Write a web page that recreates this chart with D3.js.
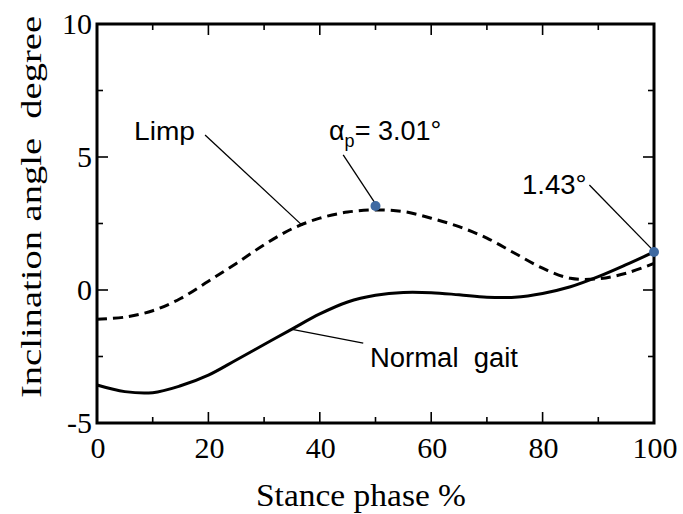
<!DOCTYPE html>
<html><head><meta charset="utf-8">
<script src="https://cdn.jsdelivr.net/npm/d3@7"></script>
<style>body{margin:0;background:#fff}svg{display:block}text{white-space:pre}</style>
</head><body>
<script>
// ---- data ----
const phase = [0,5,10,15,20,25,30,35,40,45,50,55,60,65,70,75,80,85,90,95,100];
const limp = [-1.1,-1.02,-0.78,-0.32,0.33,1.0,1.7,2.3,2.7,2.93,3.01,2.95,2.7,2.38,1.95,1.38,0.82,0.44,0.42,0.63,1.0];
const normal = [-3.57,-3.82,-3.86,-3.6,-3.2,-2.63,-2.05,-1.47,-0.9,-0.45,-0.2,-0.09,-0.1,-0.18,-0.27,-0.27,-0.13,0.12,0.5,0.95,1.43];
const xTicks = [0,20,40,60,80,100];
const yTicks = [-5,0,5,10];
const markers = [{x:50,y:3.16},{x:100,y:1.43}];

const W=683,H=514;
const svg=d3.select("body").append("svg").attr("width",W).attr("height",H);
const x=d3.scaleLinear().domain([0,100]).range([97,654]);
const y=d3.scaleLinear().domain([-5,10]).range([423,24]);

// ticks (inward)
const g=svg.append("g");
const xMinor=d3.range(0,101,10), yMinor=d3.range(-5,10.01,2.5);
xMinor.forEach(v=>{
  const L = (v%20===0)?11:6;
  g.append("line").attr("x1",x(v)).attr("x2",x(v)).attr("y1",y(-5)).attr("y2",y(-5)-L).attr("stroke","#000").attr("stroke-width",1.6);
  g.append("line").attr("x1",x(v)).attr("x2",x(v)).attr("y1",y(10)).attr("y2",y(10)+L).attr("stroke","#000").attr("stroke-width",1.6);
});
yMinor.forEach(v=>{
  const L = (v%5===0)?11:6;
  g.append("line").attr("y1",y(v)).attr("y2",y(v)).attr("x1",x(0)).attr("x2",x(0)+L).attr("stroke","#000").attr("stroke-width",1.6);
  g.append("line").attr("y1",y(v)).attr("y2",y(v)).attr("x1",x(100)).attr("x2",x(100)-L).attr("stroke","#000").attr("stroke-width",1.6);
});
svg.append("rect").attr("x",x(0)).attr("y",y(10)).attr("width",x(100)-x(0)).attr("height",y(-5)-y(10))
  .attr("fill","none").attr("stroke","#000").attr("stroke-width",3);

// tick labels
const serif="'Liberation Serif','Times New Roman',serif";
svg.append("g").selectAll("text").data(xTicks).join("text")
  .attr("x",d=>x(d)+1).attr("y",457.5).attr("text-anchor","middle")
  .attr("font-family",serif).attr("font-size",30).text(d=>d);
svg.append("g").selectAll("text").data(yTicks).join("text")
  .attr("x",92).attr("y",d=>y(d)+10).attr("text-anchor","end")
  .attr("font-family",serif).attr("font-size",30).text(d=>d);

// axis titles
svg.append("text").attr("x",361).attr("y",506).attr("text-anchor","middle")
  .attr("font-family",serif).attr("font-size",31).attr("textLength",210).attr("lengthAdjust","spacingAndGlyphs")
  .text("Stance phase %");
svg.append("text").attr("transform","translate(41,207) rotate(-90)").attr("text-anchor","middle")
  .attr("font-family",serif).attr("font-size",30).attr("textLength",382).attr("lengthAdjust","spacingAndGlyphs")
  .text("Inclination angle  degree");

// curves
const line=d3.line().x((d,i)=>x(phase[i])).y(d=>y(d)).curve(d3.curveCatmullRom.alpha(0.5));
svg.append("path").attr("d",line(normal)).attr("fill","none").attr("stroke","#000").attr("stroke-width",3);
svg.append("path").attr("d",line(limp)).attr("fill","none").attr("stroke","#000").attr("stroke-width",3).attr("stroke-dasharray","10,6");

// annotations
const sans="'Liberation Sans',Arial,sans-serif";
const lead=(x1,y1,x2,y2)=>svg.append("line").attr("x1",x1).attr("y1",y1).attr("x2",x2).attr("y2",y2).attr("stroke","#000").attr("stroke-width",1.3);
lead(x(19.4),y(5.83),x(36.9),y(2.42));
svg.append("text").attr("x",134).attr("y",139.5).attr("font-family",sans).attr("font-size",26).attr("textLength",61).attr("lengthAdjust","spacingAndGlyphs").text("Limp");
lead(x(34.8),y(-1.47),x(47.8),y(-2.0));
svg.append("text").attr("x",370).attr("y",366.5).attr("font-family",sans).attr("font-size",27).attr("textLength",148).attr("lengthAdjust","spacingAndGlyphs").text("Normal  gait");
lead(x(44.2),y(5.08),x(49.8),y(3.3));
const ap=svg.append("text").attr("x",329).attr("y",140).attr("font-family",sans).attr("font-size",27);
ap.append("tspan").text("α");
ap.append("tspan").attr("font-size",18).attr("dy",7).text("p");
ap.append("tspan").attr("dy",-7).text("= 3.01°");
lead(x(88.4),y(3.95),x(99.8),y(1.5));
svg.append("text").attr("x",522).attr("y",193.5).attr("font-family",sans).attr("font-size",27.5).text("1.43°");

svg.append("g").selectAll("circle").data(markers).join("circle")
  .attr("cx",d=>x(d.x)).attr("cy",d=>y(d.y)).attr("r",5).attr("fill","#3f6aa2");
</script>
</body></html>
